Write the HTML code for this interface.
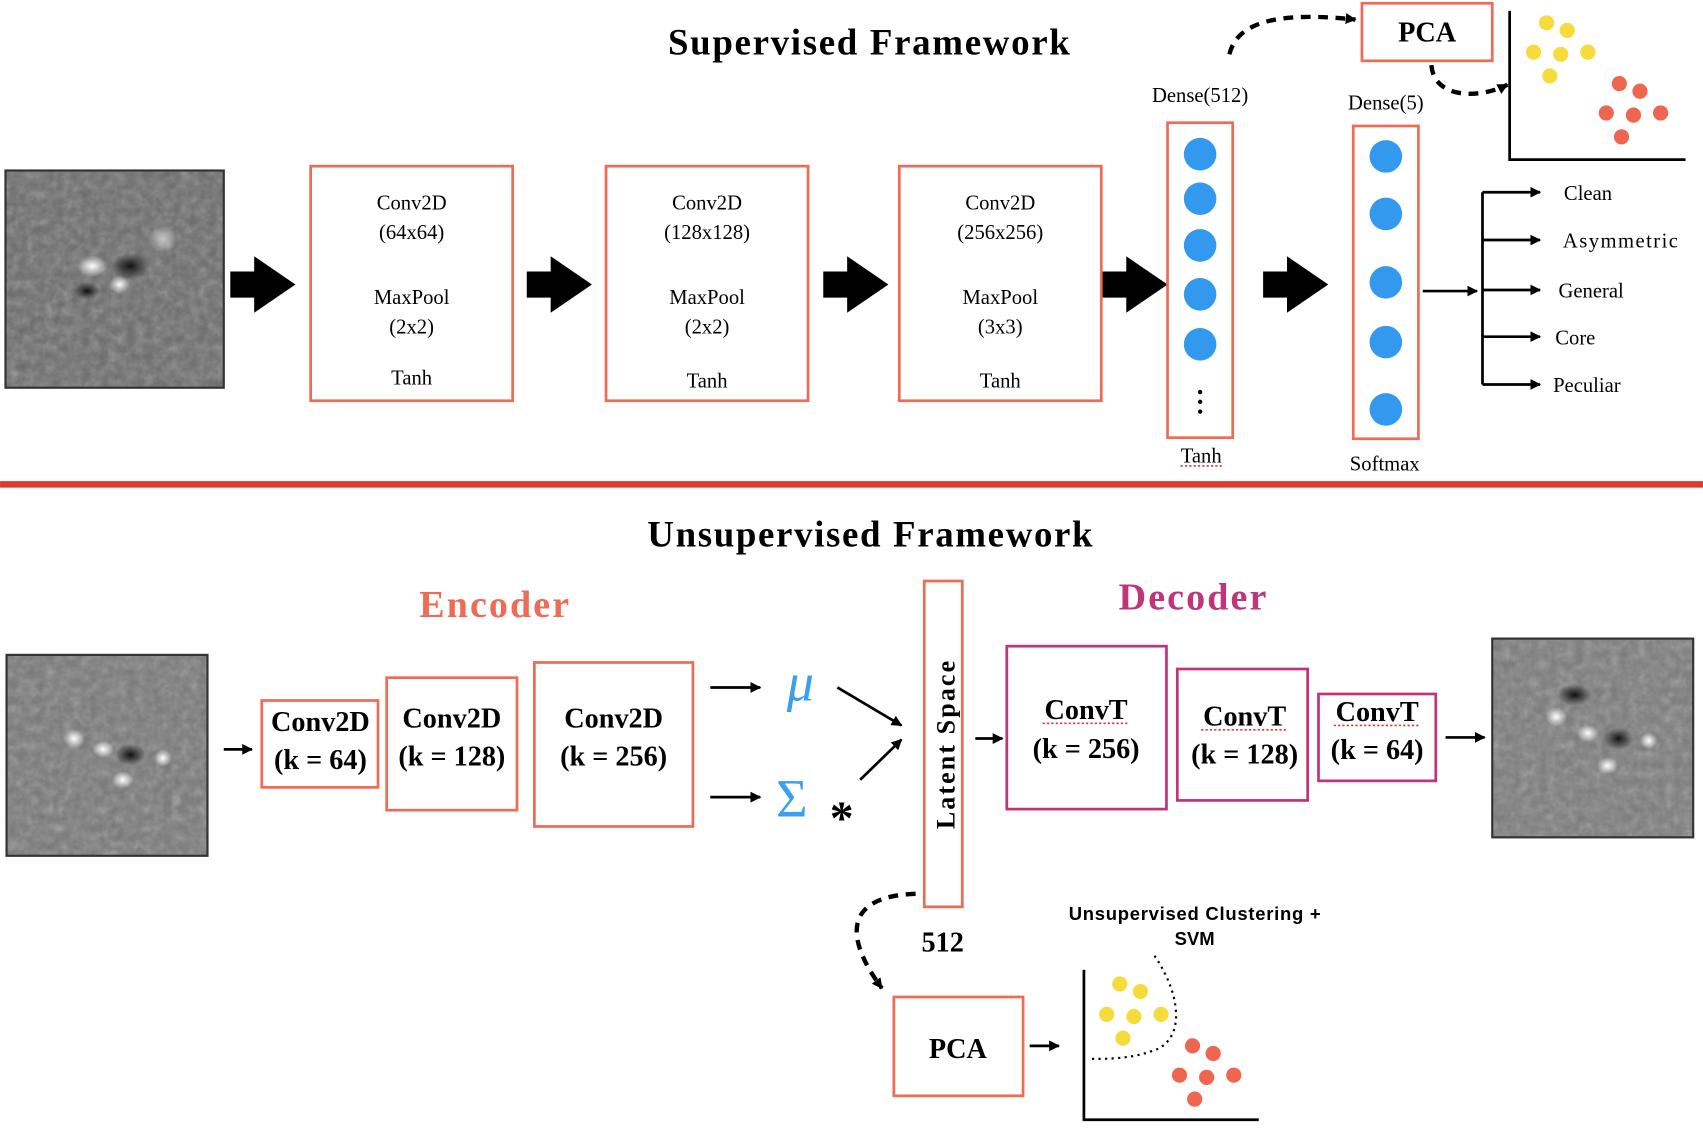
<!DOCTYPE html>
<html><head><meta charset="utf-8"><style>
html,body{margin:0;padding:0;background:#fff;}
svg{display:block;}
text{font-family:"Liberation Serif",serif;}
</style></head><body>
<svg width="1703" height="1136" viewBox="0 0 1568 1046" xmlns="http://www.w3.org/2000/svg">
<defs>
<marker id="ah" markerWidth="10" markerHeight="10" refX="9" refY="5" orient="auto" markerUnits="userSpaceOnUse"><path d="M0,0 L10,5 L0,10 z" fill="#000"/></marker>
<radialGradient id="blob"><stop offset="0" stop-color="#fff"/><stop offset="1" stop-color="#fff" stop-opacity="0"/></radialGradient>
<radialGradient id="dblob"><stop offset="0" stop-color="#111"/><stop offset="1" stop-color="#111" stop-opacity="0"/></radialGradient>
<filter id="noise" x="0" y="0" width="1" height="1"><feTurbulence type="fractalNoise" baseFrequency="0.12" numOctaves="3" seed="3"/><feColorMatrix type="saturate" values="0"/><feComponentTransfer><feFuncA type="linear" slope="0.45"/></feComponentTransfer></filter>
</defs>
<!-- Supervised -->
<text x="800" y="50" font-size="34" font-weight="bold" text-anchor="middle" textLength="370">Supervised Framework</text>
<rect x="5" y="157" width="201" height="200" fill="#6a6a6a"/>
<rect x="5" y="157" width="201" height="200" filter="url(#noise)"/>
<ellipse cx="85" cy="245" rx="14" ry="10" fill="url(#blob)"/>
<ellipse cx="110" cy="262" rx="10" ry="8" fill="url(#blob)"/>
<ellipse cx="150" cy="220" rx="14" ry="12" fill="url(#blob)" opacity="0.6"/>
<ellipse cx="120" cy="245" rx="18" ry="12" fill="url(#dblob)"/>
<ellipse cx="80" cy="268" rx="12" ry="8" fill="url(#dblob)"/>
<rect x="5" y="157" width="201" height="200" fill="none" stroke="#333" stroke-width="2"/>
<g fill="#000">
<path d="M212,250 h22 v-14 l38,26 l-38,26 v-14 h-22z"/>
<path d="M485,250 h22 v-14 l38,26 l-38,26 v-14 h-22z"/>
<path d="M758,250 h22 v-14 l38,26 l-38,26 v-14 h-22z"/>
<path d="M1015,250 h22 v-14 l38,26 l-38,26 v-14 h-22z"/>
<path d="M1163,250 h22 v-14 l38,26 l-38,26 v-14 h-22z"/>
</g>
<g fill="#fff" stroke="#ee6b55" stroke-width="2.5">
<rect x="286" y="153" width="186" height="216"/>
<rect x="558" y="153" width="186" height="216"/>
<rect x="828" y="153" width="186" height="216"/>
<rect x="1075" y="113" width="60" height="290"/>
<rect x="1246" y="116" width="60" height="288"/>
<rect x="1254" y="3" width="120" height="53"/>
</g>
<g font-size="19" text-anchor="middle">
<text x="379" y="193">Conv2D</text><text x="379" y="220">(64x64)</text><text x="379" y="280">MaxPool</text><text x="379" y="307">(2x2)</text><text x="379" y="354">Tanh</text>
<text x="651" y="193">Conv2D</text><text x="651" y="220">(128x128)</text><text x="651" y="280">MaxPool</text><text x="651" y="307">(2x2)</text><text x="651" y="357">Tanh</text>
<text x="921" y="193">Conv2D</text><text x="921" y="220">(256x256)</text><text x="921" y="280">MaxPool</text><text x="921" y="307">(3x3)</text><text x="921" y="357">Tanh</text>
<text x="1105" y="94">Dense(512)</text><text x="1276" y="101">Dense(5)</text>
<text x="1106" y="426">Tanh</text><text x="1275" y="433">Softmax</text>
</g>
<line x1="1087" y1="429" x2="1127" y2="429" stroke="#d33" stroke-width="1.5" stroke-dasharray="2,2"/>
<g fill="#3399ee">
<circle cx="1105" cy="142" r="15"/><circle cx="1105" cy="183" r="15"/><circle cx="1105" cy="226" r="15"/><circle cx="1105" cy="271" r="15"/><circle cx="1105" cy="317" r="15"/>
<circle cx="1276" cy="144" r="15"/><circle cx="1276" cy="197" r="15"/><circle cx="1276" cy="260" r="15"/><circle cx="1276" cy="315" r="15"/><circle cx="1276" cy="377" r="15"/>
</g>
<g fill="#000"><circle cx="1105" cy="361" r="2"/><circle cx="1105" cy="370" r="2"/><circle cx="1105" cy="379" r="2"/></g>
<text x="1314" y="38" font-size="26" font-weight="bold" text-anchor="middle">PCA</text>
<path d="M1132,50 C1140,15 1190,12 1248,18" fill="none" stroke="#000" stroke-width="4" stroke-dasharray="9,7" marker-end="url(#ah)"/>
<path d="M1318,60 C1320,90 1360,92 1388,78" fill="none" stroke="#000" stroke-width="4" stroke-dasharray="9,7" marker-end="url(#ah)"/>
<path d="M1390,10 V147 H1552" fill="none" stroke="#000" stroke-width="2.5"/>
<g fill="#f5dc3c"><circle cx="1424" cy="21" r="7"/><circle cx="1443" cy="28" r="7"/><circle cx="1412" cy="48" r="7"/><circle cx="1437" cy="50" r="7"/><circle cx="1462" cy="48" r="7"/><circle cx="1427" cy="70" r="7"/></g>
<g fill="#ee6650"><circle cx="1491" cy="77" r="7"/><circle cx="1510" cy="84" r="7"/><circle cx="1479" cy="104" r="7"/><circle cx="1504" cy="106" r="7"/><circle cx="1529" cy="104" r="7"/><circle cx="1493" cy="126" r="7"/></g>
<g stroke="#000" stroke-width="2.5" fill="none">
<line x1="1310" y1="268" x2="1360" y2="268" marker-end="url(#ah)"/>
<line x1="1365" y1="177" x2="1365" y2="354"/>
<line x1="1365" y1="177" x2="1418" y2="177" marker-end="url(#ah)"/>
<line x1="1365" y1="221" x2="1418" y2="221" marker-end="url(#ah)"/>
<line x1="1365" y1="267" x2="1418" y2="267" marker-end="url(#ah)"/>
<line x1="1365" y1="310" x2="1418" y2="310" marker-end="url(#ah)"/>
<line x1="1365" y1="354" x2="1418" y2="354" marker-end="url(#ah)"/>
</g>
<g font-size="19">
<text x="1440" y="184">Clean</text><text x="1439" y="228" textLength="106">Asymmetric</text><text x="1435" y="274">General</text><text x="1432" y="317">Core</text><text x="1430" y="361">Peculiar</text>
</g>
<rect x="0" y="443" width="1568" height="6" fill="#e03a2a"/>
<!-- Unsupervised -->
<text x="801" y="503" font-size="34" font-weight="bold" text-anchor="middle" textLength="410">Unsupervised Framework</text>
<text x="455" y="568" font-size="35" font-weight="bold" text-anchor="middle" fill="#ee6b55" textLength="138">Encoder</text>
<text x="1098" y="561" font-size="35" font-weight="bold" text-anchor="middle" fill="#c0357a" textLength="136">Decoder</text>
<rect x="6" y="603" width="185" height="185" fill="#777"/>
<rect x="6" y="603" width="185" height="185" filter="url(#noise)"/>
<ellipse cx="68" cy="680" rx="10" ry="9" fill="url(#blob)"/><ellipse cx="95" cy="690" rx="10" ry="8" fill="url(#blob)"/><ellipse cx="113" cy="718" rx="10" ry="8" fill="url(#blob)"/><ellipse cx="150" cy="698" rx="8" ry="8" fill="url(#blob)"/><ellipse cx="120" cy="695" rx="14" ry="10" fill="url(#dblob)"/>
<rect x="6" y="603" width="185" height="185" fill="none" stroke="#333" stroke-width="2"/>
<rect x="1374" y="588" width="185" height="183" fill="#7a7a7a"/>
<rect x="1374" y="588" width="185" height="183" filter="url(#noise)"/>
<ellipse cx="1433" cy="660" rx="10" ry="9" fill="url(#blob)"/><ellipse cx="1462" cy="675" rx="10" ry="8" fill="url(#blob)"/><ellipse cx="1480" cy="705" rx="10" ry="8" fill="url(#blob)"/><ellipse cx="1518" cy="682" rx="8" ry="8" fill="url(#blob)"/><ellipse cx="1450" cy="640" rx="16" ry="10" fill="url(#dblob)"/><ellipse cx="1490" cy="680" rx="14" ry="10" fill="url(#dblob)"/>
<rect x="1374" y="588" width="185" height="183" fill="none" stroke="#333" stroke-width="2"/>
<g fill="#fff" stroke-width="2.5">
<rect x="241" y="645" width="107" height="80" stroke="#ee6b55"/>
<rect x="356" y="624" width="120" height="122" stroke="#ee6b55"/>
<rect x="492" y="610" width="146" height="151" stroke="#ee6b55"/>
<rect x="851" y="535" width="35" height="300" stroke="#ee6b55"/>
<rect x="927" y="595" width="147" height="150" stroke="#c0357a"/>
<rect x="1084" y="616" width="120" height="121" stroke="#c0357a"/>
<rect x="1214" y="639" width="108" height="80" stroke="#c0357a"/>
<rect x="823" y="918" width="119" height="91" stroke="#ee6b55"/>
</g>
<g font-size="26" font-weight="bold" text-anchor="middle">
<text x="295" y="673">Conv2D</text><text x="295" y="708">(k = 64)</text>
<text x="416" y="670">Conv2D</text><text x="416" y="705">(k = 128)</text>
<text x="565" y="670">Conv2D</text><text x="565" y="705">(k = 256)</text>
<text x="1000" y="662">ConvT</text><text x="1000" y="698">(k = 256)</text>
<text x="1146" y="668">ConvT</text><text x="1146" y="703">(k = 128)</text>
<text x="1268" y="664">ConvT</text><text x="1268" y="699">(k = 64)</text>
<text x="882" y="974">PCA</text>
<text x="868" y="876">512</text>
<text transform="translate(879,686) rotate(-90)" font-size="24" textLength="155">Latent Space</text>
</g>
<g stroke="#d33" stroke-width="1.5" stroke-dasharray="2,2">
<line x1="960" y1="666" x2="1040" y2="666"/><line x1="1106" y1="672" x2="1186" y2="672"/><line x1="1228" y1="668" x2="1306" y2="668"/>
</g>
<text x="737" y="645" font-size="50" font-style="italic" fill="#3aa0ee" text-anchor="middle">μ</text>
<text x="729" y="752" font-size="50" fill="#3aa0ee" text-anchor="middle">Σ</text>
<text x="775" y="768" font-size="44" font-weight="bold" text-anchor="middle">*</text>
<g stroke="#000" stroke-width="2.5" fill="none">
<line x1="206" y1="690" x2="232" y2="690" marker-end="url(#ah)"/>
<line x1="654" y1="633" x2="700" y2="633" marker-end="url(#ah)"/>
<line x1="654" y1="734" x2="700" y2="734" marker-end="url(#ah)"/>
<line x1="771" y1="633" x2="830" y2="668" marker-end="url(#ah)"/>
<line x1="792" y1="718" x2="830" y2="681" marker-end="url(#ah)"/>
<line x1="898" y1="680" x2="923" y2="680" marker-end="url(#ah)"/>
<line x1="1331" y1="679" x2="1367" y2="679" marker-end="url(#ah)"/>
<line x1="948" y1="963" x2="975" y2="963" marker-end="url(#ah)"/>
</g>
<path d="M843,823 C780,825 775,860 812,910" fill="none" stroke="#000" stroke-width="4" stroke-dasharray="9,7" marker-end="url(#ah)"/>
<text x="1100" y="847" font-size="17" font-weight="bold" text-anchor="middle" style="font-family:'Liberation Sans',sans-serif" textLength="232">Unsupervised Clustering +</text>
<text x="1100" y="870" font-size="17" font-weight="bold" text-anchor="middle" style="font-family:'Liberation Sans',sans-serif">SVM</text>
<path d="M998,893 V1031 H1159" fill="none" stroke="#000" stroke-width="2.5"/>
<path d="M1063,880 C1090,920 1090,960 1060,968 C1040,975 1020,975 1003,975" fill="none" stroke="#000" stroke-width="2" stroke-dasharray="2,4"/>
<g fill="#f5dc3c"><circle cx="1031" cy="906" r="7"/><circle cx="1050" cy="913" r="7"/><circle cx="1019" cy="934" r="7"/><circle cx="1044" cy="936" r="7"/><circle cx="1069" cy="934" r="7"/><circle cx="1034" cy="956" r="7"/></g>
<g fill="#ee6650"><circle cx="1098" cy="963" r="7"/><circle cx="1117" cy="970" r="7"/><circle cx="1086" cy="990" r="7"/><circle cx="1111" cy="992" r="7"/><circle cx="1136" cy="990" r="7"/><circle cx="1100" cy="1012" r="7"/></g>
</svg>
</body></html>
